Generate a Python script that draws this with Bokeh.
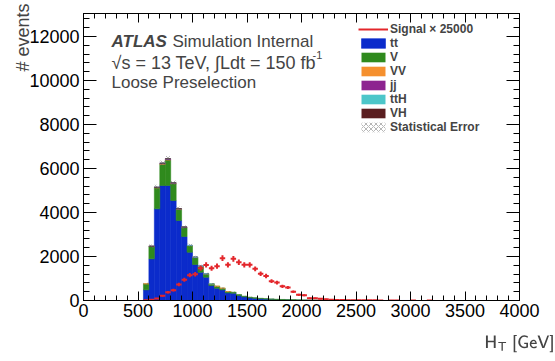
import math
from bokeh.plotting import figure
from bokeh.models import (ColumnDataSource, Range1d, LinearAxis, SingleIntervalTicker,
                          Label, Legend, LegendItem, CustomJSTickFormatter, Title)
from bokeh.embed import file_html
from bokeh.resources import INLINE

# ---------------- data (50 GeV bins, 0-4000 GeV) ----------------
bin_width = 50
n_bins = 80
first_bin = 550  # first non-empty bin (lower edge, GeV)

ttbar_vals = [485, 1894, 4167, 5227, 5227, 4545, 3636, 2909, 2197, 1636, 1288, 1061, 682, 561,
              485, 348, 333, 227, 167, 121, 100, 80, 65, 55, 45, 38, 30, 25, 20, 16, 13, 10, 8,
              7, 6, 5, 4, 3, 3, 2, 2, 2, 1, 1, 1, 1, 1, 1, 1]
v_vals = [273, 561, 955, 970, 1160, 770, 515, 414, 296, 330, 270, 150, 74, 88, 74, 60, 45, 44,
          29, 30, 26, 20, 16, 14, 12, 10, 8, 7, 6, 5, 4, 3, 3, 2, 2, 2, 1, 1, 1, 1]
vv_vals = [2, 8, 15, 18, 18, 15, 11, 9, 7, 5, 4, 3, 2, 2, 1, 1]
jj_vals = [0, 2, 10, 25, 40, 18, 10, 6, 4, 3, 2, 1]
tth_vals = [0, 1, 2, 3, 3, 3, 2, 2, 2, 1, 1, 1, 1]
vh_vals = [0, 1, 1, 1, 1, 1, 1, 1]
stat_err = [45, 80, 110, 120, 125, 110, 95, 85, 70, 60, 55, 50, 40, 35, 32, 28, 26, 22, 18, 16,
            14, 12, 11, 10, 9, 8, 7, 6, 5, 5, 4, 4, 3, 3, 3, 2, 2, 2, 2, 2]

signal_vals = [15, 30, 91, 212, 379, 470, 727, 939, 1152, 1197, 1470, 1615, 1470, 1561, 1924,
               1621, 1894, 1742, 1621, 1621, 1439, 1212, 1115, 879, 818, 644, 590, 400, 258,
               240, 106, 106, 76, 60, 30, 25, 20, 15, 12, 10, 8, 8, 6, 5, 0, 5, 5, 0, 0, 5, 0,
               0, 5]
signal_err = [11, 16, 28, 43, 58, 64, 80, 91, 100, 102, 113, 119, 113, 117, 130, 119, 129, 124,
              119, 119, 112, 103, 99, 88, 85, 75, 72, 59, 48, 46, 30, 30, 26, 23, 16, 15, 13,
              11, 10, 9, 8, 8, 7, 7, 0, 7, 7, 0, 0, 7, 0, 0, 7]

x_ticks_interval = 500
y_ticks_interval = 2000
y_max = 13050

colors = {"tt": "#0b2bcb", "V": "#2f8a1d", "VV": "#f5902e", "jj": "#8d2490",
          "ttH": "#4cc6c9", "VH": "#5a1e20"}
signal_color = "#e3262b"

FONT = "Liberation Sans"

# ---------------- build histograms ----------------
lo = [i * bin_width for i in range(n_bins)]
hi = [e + bin_width for e in lo]
off = first_bin // bin_width


def pad(vals):
    out = [0.0] * n_bins
    for i, v in enumerate(vals):
        out[off + i] = float(v)
    return out


comps = [("tt", pad(ttbar_vals)), ("V", pad(v_vals)), ("VV", pad(vv_vals)),
         ("jj", pad(jj_vals)), ("ttH", pad(tth_vals)), ("VH", pad(vh_vals))]

p = figure(width=555, height=361, output_backend="svg", toolbar_location=None,
           x_range=Range1d(0, 4000), y_range=Range1d(0, y_max),
           min_border_left=83, min_border_right=36, min_border_top=13, min_border_bottom=61,
           x_axis_location=None, y_axis_location=None)
p.grid.visible = False
p.outline_line_color = "black"
p.outline_line_width = 1
p.background_fill_color = "white"
p.border_fill_color = "white"

renderers = {}
bottom = [0.0] * n_bins
for name, vals in comps:
    top = [b + v for b, v in zip(bottom, vals)]
    if name == "tt":
        la = [1.0] * n_bins
    else:
        la = [1.0 if v > 0 else 0.0 for v in vals]
    src = ColumnDataSource(dict(left=lo, right=hi, bottom=bottom, top=top, la=la))
    r = p.quad(left="left", right="right", bottom="bottom", top="top", source=src,
               fill_color=colors[name], line_color=colors[name], line_width=0.6,
               line_alpha="la")
    renderers[name] = r
    bottom = top

total = bottom
err = pad(stat_err)
esrc = ColumnDataSource(dict(left=[l for l, e in zip(lo, err) if e > 0],
                             right=[h for h, e in zip(hi, err) if e > 0],
                             bottom=[t - e for t, e in zip(total, err) if e > 0],
                             top=[t + e for t, e in zip(total, err) if e > 0]))
r_err = p.quad(left="left", right="right", bottom="bottom", top="top", source=esrc,
               fill_alpha=0, line_alpha=0, hatch_pattern="diagonal_cross",
               hatch_color="#666666", hatch_alpha=0.8, hatch_scale=5, hatch_weight=0.6)

# signal
sig = pad(signal_vals)
serr = pad(signal_err)
keep = [i for i in range(n_bins) if sig[i] > 0]
ssrc = ColumnDataSource(dict(
    x0=[lo[i] for i in keep], x1=[hi[i] for i in keep], y=[sig[i] for i in keep],
    xc=[lo[i] + bin_width / 2 for i in keep],
    ylo=[sig[i] - serr[i] for i in keep], yhi=[sig[i] + serr[i] for i in keep]))
r_sig = p.segment(x0="x0", x1="x1", y0="y", y1="y", source=ssrc, line_color=signal_color,
                  line_width=2)
p.segment(x0="xc", x1="xc", y0="ylo", y1="yhi", source=ssrc, line_color=signal_color,
          line_width=2)

# ---------------- axes ----------------
xt = SingleIntervalTicker(interval=x_ticks_interval, num_minor_ticks=5)
yt = SingleIntervalTicker(interval=y_ticks_interval, num_minor_ticks=5)
blank = CustomJSTickFormatter(code="return ''")


def style(ax, major_in, minor_in, labels=True):
    ax.major_tick_out = 0
    ax.minor_tick_out = 0
    ax.major_tick_in = major_in
    ax.minor_tick_in = minor_in
    ax.axis_line_color = "black"
    ax.major_tick_line_color = "black"
    ax.minor_tick_line_color = "black"
    ax.major_label_text_font = FONT
    ax.major_label_text_font_size = "18px"
    ax.major_label_text_color = "black"
    if not labels:
        ax.formatter = blank
        ax.major_label_standoff = 0
        ax.major_label_text_font_size = "1px"


xb = LinearAxis(ticker=xt)
style(xb, 9, 5)
xb.major_label_standoff = 3
xb.axis_label = r"$$\mathsf{H_{T}\ [GeV]}$$"
xb.axis_label_text_font = FONT
xb.axis_label_text_font_size = "15px"
xb.axis_label_text_font_style = "normal"
xb.axis_label_standoff = 15
xb.axis_label_align = "end"
xb.axis_label_text_align = "right"
p.add_layout(xb, "below")
yl = LinearAxis(ticker=yt)
style(yl, 13, 6)
yl.major_label_standoff = 4
p.add_layout(yl, "left")
xa = LinearAxis(ticker=xt)
style(xa, 9, 5, labels=False)
p.add_layout(xa, "above")
yr = LinearAxis(ticker=yt)
style(yr, 13, 6, labels=False)
p.add_layout(yr, "right")

# y axis title, end-aligned at the top like ROOT
p.add_layout(Title(text="# events", align="right", text_font=FONT, text_font_size="18px",
                   text_font_style="normal", standoff=-12, offset=-10), "left")

# ATLAS text
p.add_layout(Label(x=28, y=259, x_units="screen", y_units="screen", text="ATLAS",
                   text_font=FONT, text_font_size="17px", text_font_style="bold italic",
                   text_baseline="alphabetic"))
p.add_layout(Label(x=89, y=259, x_units="screen", y_units="screen", text="Simulation Internal",
                   text_font=FONT, text_font_size="17px", text_baseline="alphabetic"))
p.add_layout(Label(x=28, y=238, x_units="screen", y_units="screen",
                   text="\u221as = 13 TeV, \u222bLdt = 150 fb",
                   text_font=FONT, text_font_size="18px", text_baseline="alphabetic"))
p.add_layout(Label(x=229, y=246, x_units="screen", y_units="screen", text="-1",
                   text_font=FONT, text_font_size="11px", text_baseline="alphabetic"))
p.add_layout(Label(x=28, y=218, x_units="screen", y_units="screen", text="Loose Preselection",
                   text_font=FONT, text_font_size="17px", text_baseline="alphabetic"))

# legend
items = [LegendItem(label="Signal \u00d7 25000", renderers=[r_sig])]
for name in ["tt", "V", "VV", "jj", "ttH", "VH"]:
    items.append(LegendItem(label=name, renderers=[renderers[name]]))
items.append(LegendItem(label="Statistical Error", renderers=[r_err]))
leg = Legend(items=items, location=(275, 166), orientation="vertical",
             glyph_width=30, glyph_height=12, label_height=14, label_standoff=2,
             spacing=0, padding=0, margin=0, border_line_alpha=0,
             background_fill_alpha=0, label_text_font=FONT, label_text_font_size="12px",
             label_text_font_style="bold", label_text_baseline="middle")
p.add_layout(leg, "center")

open("out.html", "w").write(file_html(p, INLINE))
